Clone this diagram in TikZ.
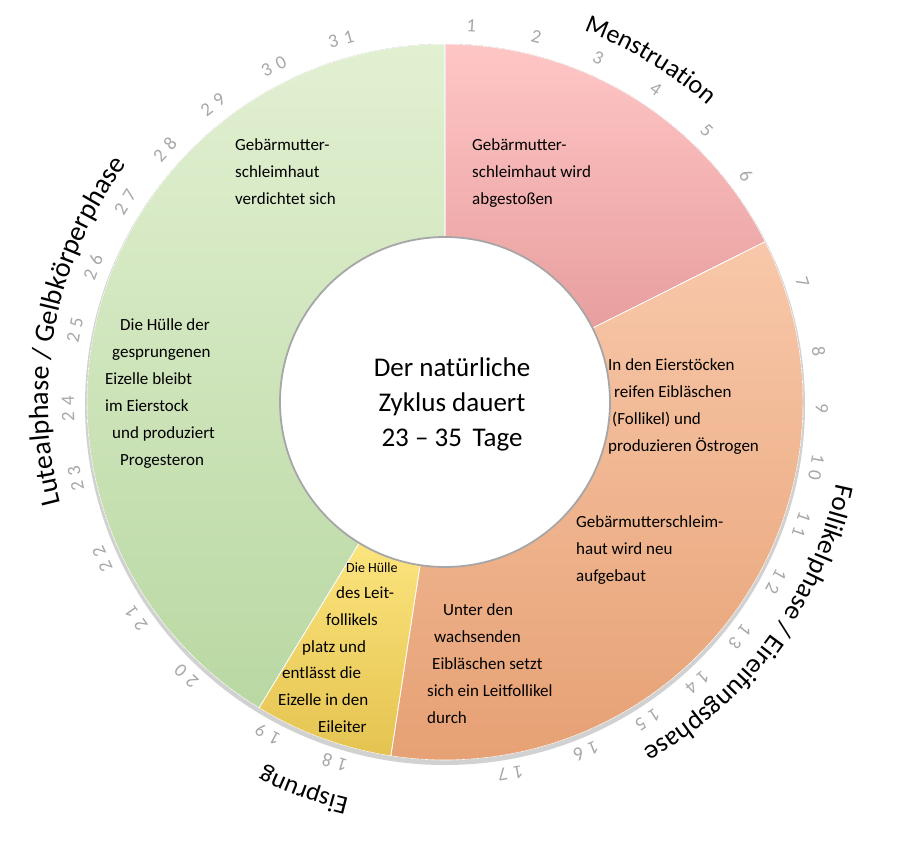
\documentclass[tikz,border=0pt]{standalone}
\usepackage{fontspec}
\setmainfont{Carlito}
\usetikzlibrary{decorations.text,shadows}
\definecolor{numgray}{HTML}{A8A8A8}
\tikzset{
  seg/.style={draw=white,line width=0.6pt},
  num/.style={text=numgray,font=\fontsize{19}{19}\selectfont},
  body/.style={anchor=north west,inner sep=0pt,font=\fontsize{17}{27}\selectfont,align=left},
  phase/.style={decorate,decoration={text along path,text align=center,text={#1}}}
}
\begin{document}
\begin{tikzpicture}[x=1pt,y=1pt]
\useasboundingbox (0,0) rectangle (904,-862);
\fill[white] (0,0) rectangle (904,-862);
\begin{scope}[shift={(445,-402)}]
\fill[black!18] (0,-3) circle[radius=360];
\fill[seg,top color={rgb,255:red,255;green,198;blue,198},bottom color={rgb,255:red,232;green,158;blue,158}]
  (90:358) arc[start angle=90,end angle=26.6,radius=358] -- (26.6:165) arc[start angle=26.6,end angle=90,radius=165] -- cycle;
\fill[seg,top color={rgb,255:red,248;green,200;blue,170},bottom color={rgb,255:red,230;green,160;blue,115}]
  (26.6:358) arc[start angle=26.6,end angle=-98.7,radius=358] -- (-98.7:165) arc[start angle=-98.7,end angle=26.6,radius=165] -- cycle;
\fill[seg,top color={rgb,255:red,252;green,228;blue,125},bottom color={rgb,255:red,228;green,195;blue,80}]
  (-98.7:358) arc[start angle=-98.7,end angle=-121.3,radius=358] -- (-121.3:165) arc[start angle=-121.3,end angle=-98.7,radius=165] -- cycle;
\fill[seg,top color={rgb,255:red,226;green,240;blue,210},bottom color={rgb,255:red,185;green,216;blue,162}]
  (-121.3:358) arc[start angle=-121.3,end angle=-270,radius=358] -- (90:165) arc[start angle=90,end angle=-121.3,radius=165] -- cycle;
\draw[seg] (90:165) -- (90:358) (26.6:165) -- (26.6:358) (-98.7:165) -- (-98.7:358) (-121.3:165) -- (-121.3:358);
\node[circle,fill=white,draw=black!35,line width=1.8pt,minimum size=330pt,inner sep=0pt] (center) at (0,0) {};
\node[align=center,font=\fontsize{27}{35}\selectfont] (ctext) at (7,-2) {Der natürliche\\Zyklus dauert\\23 – 35\,\ Tage};
\foreach \a/\t [count=\i] in {86/1,76/2,66/3,56/4,46/5,37/6,18.5/7,7.7/8,-1/9,-10/{1\,\,0},-19/{1\,\,1},-28.5/{1\,\,2},-38.5/{1\,\,3},-48/{1\,\,4},-57.5/{1\,\,5},-68/{1\,\,6},-80/{1\,\,7},
  -107/{1\,\,8},-118/{1\,\,9},-133.3/{2\,\,0},-145/{2\,\,1},-155.4/{2\,\,2},-168.3/{2\,\,3},-179/{2\,\,4},-191/{2\,\,5},-201/{2\,\,6},-212/{2\,\,7},-222/{2\,\,8},-232/{2\,\,9},-243/{3\,\,0},-254/{3\,\,1}}
  \node[num,rotate=\a-90] (n\i) at (\a:377) {\t};
\path[phase={|\fontsize{26}{26}\selectfont|Menstruation}] (82:396) arc[start angle=82,end angle=36,radius=396];
\path[phase={|\fontsize{27}{27}\selectfont|Follikelphase / Eireifungsphase}] (6:400) arc[start angle=6,end angle=-78,radius=400];
\path[phase={|\fontsize{26}{26}\selectfont|Eisprung}] (-88:408) arc[start angle=-88,end angle=-132,radius=408];
\path[phase={|\fontsize{28}{28}\selectfont|Lutealphase / Gelbkörperphase}] (-147:397) arc[start angle=-147,end angle=-235,radius=397];
\end{scope}
\node[body] (m1) at (472,-138) {Gebärmutter-\\schleimhaut wird\\abgestoßen};
\node[body] (g1) at (235,-138) {Gebärmutter-\\schleimhaut\\verdichtet sich};
\node[body] (g2) at (105,-318) {\hspace*{15pt}Die Hülle der\\\hspace*{7pt}gesprungenen\\Eizelle bleibt\\im Eierstock\\\hspace*{7pt}und produziert\\\hspace*{15pt}Progesteron};
\node[body] (f1) at (608,-358) {In den Eierstöcken\\\hspace*{6pt}reifen Eibläschen\\\hspace*{4pt}(Follikel) und\\produzieren Östrogen};
\node[body] (f2) at (576,-515) {Gebärmutterschleim-\\haut wird neu\\aufgebaut};
\node[body] (f3) at (427,-603) {\hspace*{16pt}Unter den\\\hspace*{7pt}wachsenden\\\hspace*{5pt}Eibläschen setzt\\sich ein Leitfollikel\\durch};
\node[anchor=base west,inner sep=0pt,font=\fontsize{14}{14}\selectfont] (y1) at (346,-572) {Die Hülle};
\node[body] (y2) at (336,-586) {des Leit-};
\node[body] (y3) at (326,-613) {follikels};
\node[body] (y4) at (302,-640) {platz und};
\node[body] (y5) at (282,-666) {entlässt die};
\node[body] (y6) at (278,-693) {Eizelle in den};
\node[body] (y7) at (318,-720) {Eileiter};
\end{tikzpicture}
\end{document}
